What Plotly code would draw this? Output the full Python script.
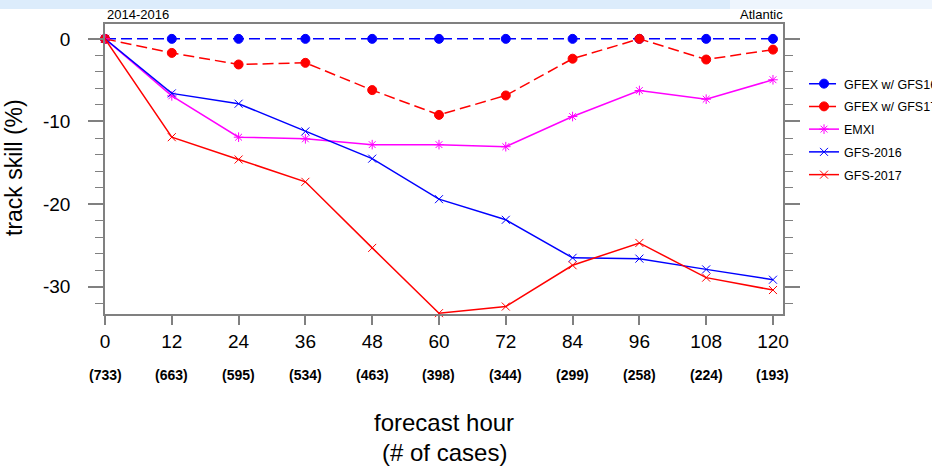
import plotly.graph_objects as go

hours = [0, 12, 24, 36, 48, 60, 72, 84, 96, 108, 120]
cases = [733, 663, 595, 534, 463, 398, 344, 299, 258, 224, 193]
y_ticks = [0, -10, -20, -30]

gfex16 = [0, 0, 0, 0, 0, 0, 0, 0, 0, 0, 0]
gfex17 = [0, -1.7, -3.1, -2.9, -6.2, -9.2, -6.85, -2.4, 0, -2.5, -1.3]
emxi = [0, -6.9, -11.9, -12.1, -12.8, -12.8, -13.05, -9.4, -6.25, -7.3, -4.95]
gfs2016 = [0, -6.6, -7.85, -11.2, -14.5, -19.4, -21.9, -26.5, -26.6, -27.9, -29.15]
gfs2017 = [0, -11.9, -14.6, -17.3, -25.3, -33.2, -32.4, -27.4, -24.7, -28.9, -30.4]

FONT = "Liberation Sans, Arial, Helvetica, sans-serif"

fig = go.Figure()

series = [
    ("GFEX w/ GFS16", gfex16, "blue", "11px,5px", "circle", 9),
    ("GFEX w/ GFS17", gfex17, "red", "11px,5px", "circle", 9),
    ("EMXI", emxi, "magenta", "solid", "asterisk-open", 8),
    ("GFS-2016", gfs2016, "blue", "solid", "x-thin-open", 8),
    ("GFS-2017", gfs2017, "red", "solid", "x-thin-open", 8),
]
for i, (name, vals, col, dash, sym, sz) in enumerate(series):
    fig.add_trace(go.Scatter(
        x=hours, y=vals, name=name, mode="lines+markers",
        line=dict(color=col, width=1.5, dash=dash),
        marker=dict(symbol=sym, size=sz, color=col, line=dict(color=col, width=1)),
        cliponaxis=False, legendgroup=f"g{i}",
    ))

annotations = []
for h, c in zip(hours, cases):
    annotations.append(dict(
        x=h, y=-(375 - 314) / 290, xref="x", yref="paper", text=f"<b>({c})</b>",
        showarrow=False, font=dict(family=FONT, size=14, color="black"),
        xanchor="center", yanchor="middle",
    ))
annotations += [
    dict(x=0, y=1.0, xref="paper", yref="paper", text="2014-2016", showarrow=False,
         font=dict(family=FONT, size=13, color="black"), xanchor="left", yanchor="bottom", yshift=0),
    dict(x=1.003, y=1.0, xref="paper", yref="paper", text="Atlantic", showarrow=False,
         font=dict(family=FONT, size=13, color="black"), xanchor="right", yanchor="bottom", yshift=0),
    dict(x=0.5, y=-(422 - 314) / 290, xref="paper", yref="paper", text="forecast hour",
         showarrow=False, font=dict(family=FONT, size=24, color="black"),
         xanchor="center", yanchor="middle"),
    dict(x=0.5, y=-(452 - 314) / 290, xref="paper", yref="paper", text="(# of cases)",
         showarrow=False, font=dict(family=FONT, size=24, color="black"),
         xanchor="center", yanchor="middle"),
    dict(x=-(105 - 14) / 678, y=1 - (168 - 24) / 290, xref="paper", yref="paper",
         text="track skill (%)", textangle=-90, showarrow=False,
         font=dict(family=FONT, size=23, color="black"), xanchor="center", yanchor="middle"),
]

shapes = [
    dict(type="rect", xref="paper", yref="paper", x0=-105 / 678, x1=(730 - 105) / 678,
         y0=1 + 15 / 290, y1=1 + 24 / 290, fillcolor="#dcecfb", line=dict(width=0), layer="above"),
    dict(type="rect", xref="paper", yref="paper", x0=(730 - 105) / 678, x1=(932 - 105) / 678,
         y0=1 + 15 / 290, y1=1 + 24 / 290, fillcolor="#eef5fd", line=dict(width=0), layer="above"),
]

fig.update_layout(
    width=932, height=466,
    margin=dict(l=105, r=149, t=24, b=152, autoexpand=False),
    paper_bgcolor="white", plot_bgcolor="white",
    font=dict(family=FONT, color="black"),
    showlegend=True,
    legend=dict(x=1.031, y=1 - (69 - 24) / 290, xanchor="left", yanchor="top",
                font=dict(family=FONT, size=12.5, color="black"),
                bgcolor="rgba(0,0,0,0)", tracegroupgap=3.5, traceorder="grouped"),
    annotations=annotations,
    shapes=shapes,
)

fig.update_xaxes(
    range=[0, 121.8], tickvals=hours, ticktext=[str(h) for h in hours],
    ticks="outside", ticklen=9, tickwidth=1.5, tickcolor="#808080",
    showline=True, linecolor="#808080", linewidth=1.5, mirror=True,
    showgrid=False, zeroline=False,
    tickfont=dict(family=FONT, size=19, color="black"), ticklabelstandoff=0,
)
fig.update_yaxes(
    range=[-33.3, 1.8], tickvals=y_ticks, ticktext=[str(v) for v in y_ticks],
    ticks="outside", ticklen=15, tickwidth=1.5, tickcolor="#808080",
    minor=dict(dtick=2, tick0=0, ticks="outside", ticklen=8, tickwidth=1, tickcolor="#808080"),
    showline=True, linecolor="#808080", linewidth=1.5, mirror="ticks",
    showgrid=False, zeroline=False,
    tickfont=dict(family=FONT, size=19, color="black"), ticklabelstandoff=14,
)

fig.write_html(
    "out.html",
    config={"displayModeBar": False},
    post_script="document.body.style.margin='0';document.body.style.overflow='hidden';",
)
